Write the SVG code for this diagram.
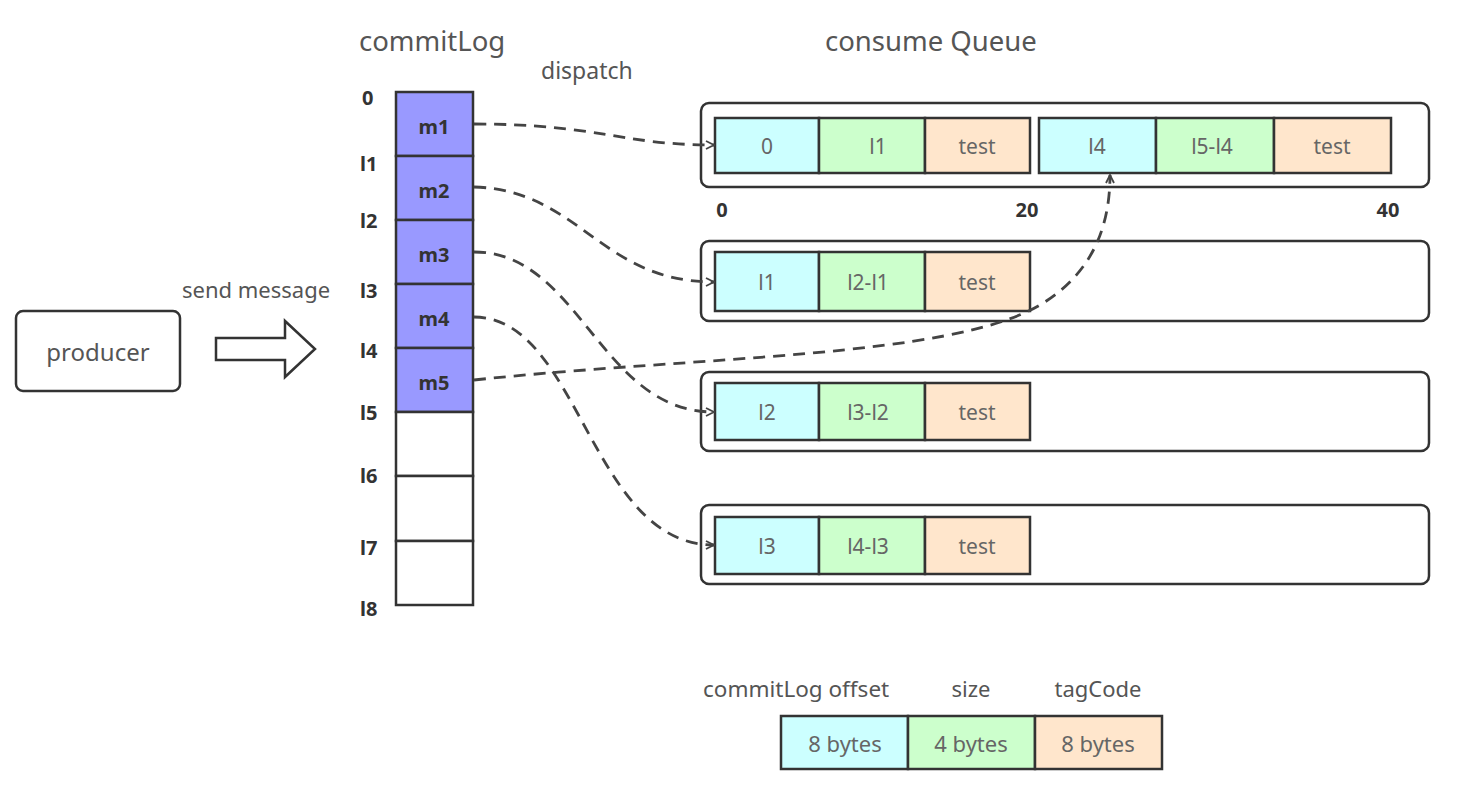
<svg xmlns="http://www.w3.org/2000/svg" width="1462" height="810" viewBox="0 0 1462 810">
<defs>
<style>
.t{font-family:"Noto Sans","Open Sans",sans-serif;fill:#555;}
.title{font-size:27.5px;}
.lbl{font-size:22px;}
.cell{font-size:21px;text-anchor:middle;fill:#666;}
.b{font-family:"Noto Sans","Open Sans",sans-serif;font-weight:bold;fill:#333;}
.off{font-size:20px;}
.m{font-size:20px;text-anchor:middle;}
.box{fill:#fff;stroke:#333;stroke-width:2.5;}
.cl{fill:#fff;stroke:#333;stroke-width:2.5;}
.msg{fill:#9999FF;stroke:#333;stroke-width:2.5;}
.cy{fill:#CCFFFF;stroke:#333;stroke-width:2.5;}
.gr{fill:#CCFFCC;stroke:#333;stroke-width:2.5;}
.pe{fill:#FFE6CC;stroke:#333;stroke-width:2.5;}
.dash{fill:none;stroke:#444;stroke-width:2.8;stroke-dasharray:12 8;marker-end:url(#open);}
</style>
<marker id="open" viewBox="0 0 10 10" refX="9" refY="5" markerWidth="10" markerHeight="10" markerUnits="userSpaceOnUse" orient="auto">
<path d="M1,1 L9,5 L1,9" fill="none" stroke="#444" stroke-width="1.8"/>
</marker>
</defs>
<rect width="1462" height="810" fill="#fff"/>

<text class="t title" x="359" y="51">commitLog</text>
<text class="t lbl" x="541" y="79" style="font-size:23px">dispatch</text>
<text class="t title" x="825" y="51">consume Queue</text>

<g id="producer">
<rect class="box" x="16" y="311" width="164" height="80" rx="7"/>
<text class="t lbl" x="98" y="361" text-anchor="middle" style="font-size:24px">producer</text>
</g>

<g id="send-message">
<text class="t lbl" x="182" y="298">send message</text>
<polygon points="216,338 285,338 285,321 315,349 285,377 285,360 216,360" fill="#fff" stroke="#333" stroke-width="2.5"/>
</g>

<g id="commitLog">
<rect class="msg" x="396" y="92" width="77" height="64"/>
<rect class="msg" x="396" y="156" width="77" height="64"/>
<rect class="msg" x="396" y="220" width="77" height="64"/>
<rect class="msg" x="396" y="284" width="77" height="64"/>
<rect class="msg" x="396" y="348" width="77" height="64"/>
<rect class="cl" x="396" y="412" width="77" height="64"/>
<rect class="cl" x="396" y="476" width="77" height="65"/>
<rect class="cl" x="396" y="541" width="77" height="64"/>
<text class="b m" x="434" y="134">m1</text>
<text class="b m" x="434" y="198">m2</text>
<text class="b m" x="434" y="262">m3</text>
<text class="b m" x="434" y="326">m4</text>
<text class="b m" x="434" y="390">m5</text>
<text class="b off" x="362" y="105">0</text>
<text class="b off" x="360" y="171">l1</text>
<text class="b off" x="360" y="228">l2</text>
<text class="b off" x="360" y="298">l3</text>
<text class="b off" x="360" y="358">l4</text>
<text class="b off" x="360" y="420">l5</text>
<text class="b off" x="360" y="483">l6</text>
<text class="b off" x="360" y="555">l7</text>
<text class="b off" x="360" y="616">l8</text>
</g>

<g id="queue0">
<rect class="box" x="701" y="103" width="728" height="84" rx="8"/>
<rect class="cy" x="715" y="118" width="104" height="55"/>
<rect class="gr" x="819" y="118" width="106" height="55"/>
<rect class="pe" x="925" y="118" width="105" height="55"/>
<rect class="cy" x="1039" y="118" width="117" height="55"/>
<rect class="gr" x="1156" y="118" width="118" height="55"/>
<rect class="pe" x="1274" y="118" width="117" height="55"/>
<text class="t cell" x="767" y="154">0</text>
<text class="t cell" x="878" y="154">l1</text>
<text class="t cell" x="977" y="154">test</text>
<text class="t cell" x="1097" y="154">l4</text>
<text class="t cell" x="1212" y="154">l5-l4</text>
<text class="t cell" x="1332" y="154">test</text>
<text class="b off" x="722" y="217" text-anchor="middle">0</text>
<text class="b off" x="1027" y="217" text-anchor="middle">20</text>
<text class="b off" x="1388" y="217" text-anchor="middle">40</text>
</g>

<g id="queue1">
<rect class="box" x="701" y="241" width="728" height="80" rx="8"/>
<rect class="cy" x="715" y="252" width="104" height="59"/>
<rect class="gr" x="819" y="252" width="106" height="59"/>
<rect class="pe" x="925" y="252" width="105" height="59"/>
<text class="t cell" x="767" y="290">l1</text>
<text class="t cell" x="868" y="290">l2-l1</text>
<text class="t cell" x="977" y="290">test</text>
</g>

<g id="queue2">
<rect class="box" x="701" y="372" width="728" height="79" rx="8"/>
<rect class="cy" x="715" y="383" width="104" height="57"/>
<rect class="gr" x="819" y="383" width="106" height="57"/>
<rect class="pe" x="925" y="383" width="105" height="57"/>
<text class="t cell" x="767" y="420">l2</text>
<text class="t cell" x="868" y="420">l3-l2</text>
<text class="t cell" x="977" y="420">test</text>
</g>

<g id="queue3">
<rect class="box" x="701" y="505" width="728" height="79" rx="8"/>
<rect class="cy" x="715" y="517" width="104" height="57"/>
<rect class="gr" x="819" y="517" width="106" height="57"/>
<rect class="pe" x="925" y="517" width="105" height="57"/>
<text class="t cell" x="767" y="554">l3</text>
<text class="t cell" x="868" y="554">l4-l3</text>
<text class="t cell" x="977" y="554">test</text>
</g>

<g id="legend">
<text class="t lbl" x="703" y="697" style="font-size:22.5px">commitLog offset</text>
<text class="t lbl" x="971" y="697" text-anchor="middle">size</text>
<text class="t lbl" x="1098" y="697" text-anchor="middle">tagCode</text>
<rect class="cy" x="781" y="716" width="127" height="53"/>
<rect class="gr" x="908" y="716" width="127" height="53"/>
<rect class="pe" x="1035" y="716" width="127" height="53"/>
<text class="t cell" x="845" y="752" style="font-size:22px">8 bytes</text>
<text class="t cell" x="971" y="752" style="font-size:22px">4 bytes</text>
<text class="t cell" x="1098" y="752" style="font-size:22px">8 bytes</text>
</g>

<g id="connectors">
<path class="dash" d="M474,124 C600,124 620,145 714,145"/>
<path class="dash" d="M474,187 C580,190 600,282 714,282"/>
<path class="dash" d="M474,252 C580,252 600,412 714,412"/>
<path class="dash" d="M474,317 C580,317 590,545 714,545"/>
<path class="dash" d="M474,380 C700,356 950,358 1040,305 C1090,275 1110,230 1110,175"/>
</g>
</svg>
